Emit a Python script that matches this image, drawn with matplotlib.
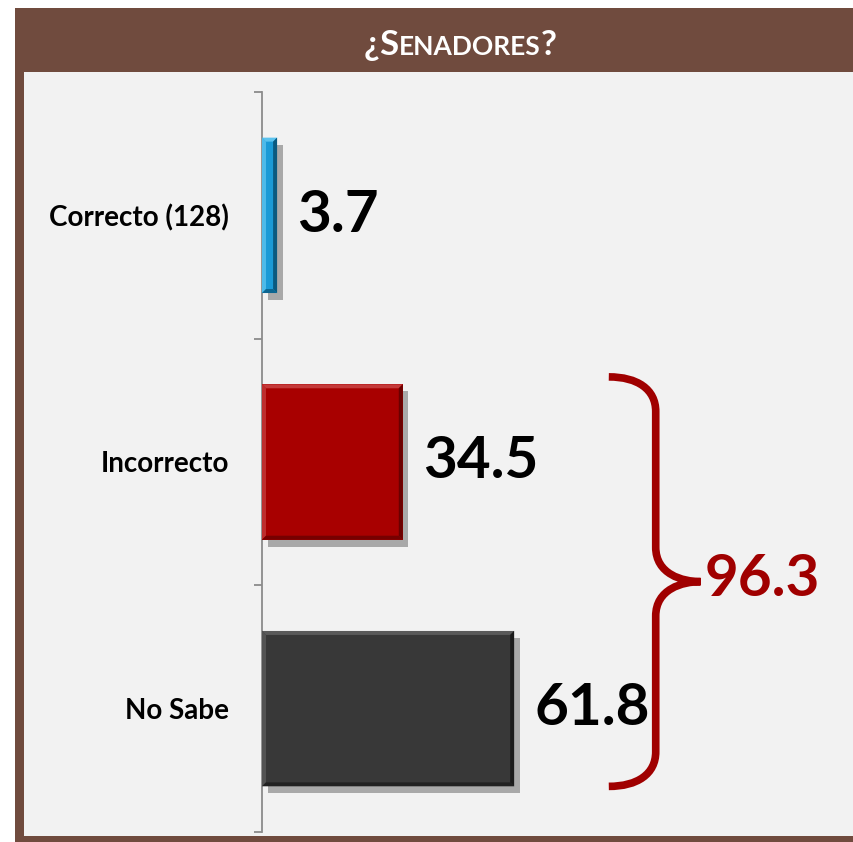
import matplotlib
matplotlib.use("Agg")
import matplotlib.pyplot as plt
import matplotlib.patheffects as pe
from matplotlib.patches import Rectangle, PathPatch, Polygon
from matplotlib.path import Path
from matplotlib.offsetbox import TextArea, HPacker, AnnotationBbox

categories = ["Correcto (128)", "Incorrecto", "No Sabe"]
values = [3.7, 34.5, 61.8]
bar_colors = ["#1B9AD6", "#A80000", "#383838"]
bevel_light = ["#5CC3EE", "#C43A3A", "#5A5A5A"]
bevel_dark = ["#0A5A80", "#6A0000", "#1C1C1C"]
group_total = 96.3
title_parts = [("¿", 25), ("S", 25), ("ENADORES", 19), ("?", 25)]

W, H = 854, 842
fig = plt.figure(figsize=(W / 100, H / 100), dpi=100)
fig.patch.set_facecolor("white")


def px_rect(x0, y0, x1, y1, color):
    # rectangle given in pixel coordinates measured from the top-left corner
    fig.add_artist(Rectangle((x0 / W, 1 - y1 / H), (x1 - x0) / W, (y1 - y0) / H,
                             transform=fig.transFigure, facecolor=color,
                             edgecolor="none", zorder=0))


brown = "#704B3E"
px_rect(24, 72, W, 836, "#F2F2F2")   # inner panel
px_rect(15, 8, W, 72, brown)         # header band
px_rect(15, 8, 24, H, brown)         # left border
px_rect(15, 836, W, H, brown)        # bottom border

# title with small caps look
areas = [TextArea(t, textprops=dict(color="white", fontsize=s, family="Lato", fontweight="bold"))
         for t, s in title_parts]
pack = HPacker(children=areas, align="baseline", pad=0, sep=0)
ab = AnnotationBbox(pack, (460 / W, (H - 45) / H), xycoords="figure fraction",
                    frameon=False, box_alignment=(0.5, 0.5))
fig.add_artist(ab)

ax_left = 262 / W
ax_bottom = (H - 832) / H
ax_top = (H - 92) / H
ax = fig.add_axes([ax_left, ax_bottom, 1 - ax_left, ax_top - ax_bottom])
ax.patch.set_alpha(0)
px_per_unit = 4.08
ax.set_xlim(0, (W - 262) / px_per_unit)
ax.set_ylim(2.5, -0.5)

bh = 0.63
ypos = list(range(len(categories)))
bars = ax.barh(ypos, values, height=bh, color=bar_colors, edgecolor="none", zorder=3)
for b in bars:
    b.set_path_effects([pe.SimplePatchShadow(offset=(4, -5), shadow_rgbFace="k", alpha=0.3),
                        pe.Normal()])

# bevel faces derived from each bar's extent
bx = 4 / px_per_unit       # ~4 px in data units
by = 4 / 247.0
for y, v, cl, cd in zip(ypos, values, bevel_light, bevel_dark):
    top, bot = y - bh / 2, y + bh / 2
    ax.add_patch(Polygon([(0, top), (v, top), (v - bx, top + by), (bx, top + by)],
                         closed=True, facecolor=cl, edgecolor="none", zorder=3.5))
    ax.add_patch(Polygon([(0, top), (bx, top + by), (bx, bot - by), (0, bot)],
                         closed=True, facecolor=cl, edgecolor="none", zorder=3.5, alpha=0.8))
    ax.add_patch(Polygon([(v, top), (v, bot), (v - bx, bot - by), (v - bx, top + by)],
                         closed=True, facecolor=cd, edgecolor="none", zorder=3.5))
    ax.add_patch(Polygon([(0, bot), (v, bot), (v - bx, bot - by), (bx, bot - by)],
                         closed=True, facecolor=cd, edgecolor="none", zorder=3.5, alpha=0.8))

for y, v in zip(ypos, values):
    ax.text(v + 5, y, f"{v:.1f}", va="center", ha="left", fontsize=42,
            fontweight="bold", family="Lato", color="black", zorder=4)

# brace grouping Incorrecto + No Sabe
y0 = 1 - bh / 2 - 0.03
y1 = 2 + bh / 2
ym = (y0 + y1) / 2
xl, xs, xt = 85, 96.5, 107.5
verts = [(xl, y0),
         (92, y0), (xs, y0 + 0.05), (xs, y0 + 0.14),
         (xs, ym - 0.14),
         (xs, ym - 0.03), (103, ym), (xt, ym),
         (103, ym), (xs, ym + 0.03), (xs, ym + 0.14),
         (xs, y1 - 0.14),
         (xs, y1 - 0.05), (92, y1), (xl, y1)]
codes = [Path.MOVETO,
         Path.CURVE4, Path.CURVE4, Path.CURVE4,
         Path.LINETO,
         Path.CURVE4, Path.CURVE4, Path.CURVE4,
         Path.CURVE4, Path.CURVE4, Path.CURVE4,
         Path.LINETO,
         Path.CURVE4, Path.CURVE4, Path.CURVE4]
ax.add_patch(PathPatch(Path(verts, codes), facecolor="none", edgecolor="#A00000",
                       linewidth=5.5, capstyle="butt", zorder=3))
ax.text(xt + 1, ym - 0.01, f"{group_total:.1f}", va="center", ha="left", fontsize=42,
        fontweight="bold", family="Lato", color="#A00000", zorder=4)

for s in ["top", "right", "bottom"]:
    ax.spines[s].set_visible(False)
ax.spines["left"].set_color("#8C8C8C")
ax.spines["left"].set_linewidth(1.3)
ax.set_xticks([])
ax.set_yticks(ypos)
ax.set_yticklabels(categories, fontsize=20, fontweight="bold", family="Lato")
ax.set_yticks([-0.5, 0.5, 1.5, 2.5], minor=True)
ax.tick_params(axis="y", which="major", length=0, pad=24)
ax.tick_params(axis="y", which="minor", length=6, width=1.3, color="#8C8C8C", direction="out")

fig.savefig("out.png", dpi=100)
